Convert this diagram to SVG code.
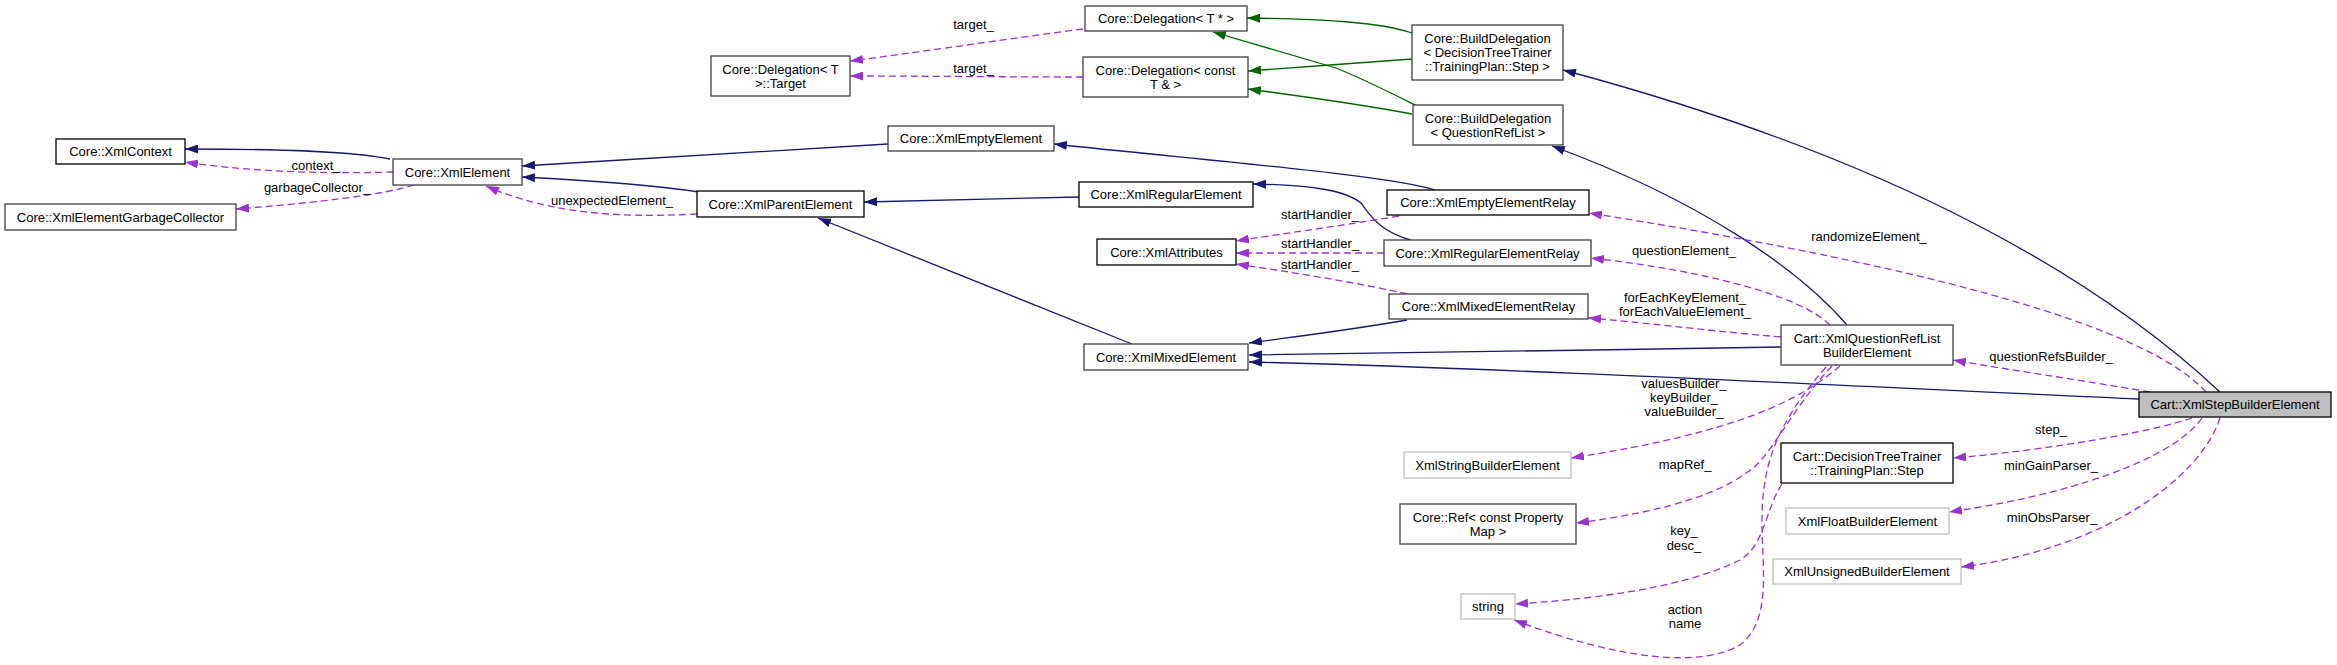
<svg xmlns="http://www.w3.org/2000/svg" width="2337" height="665" viewBox="0 0 2337 665">
<style>
text{font-family:"Liberation Sans",Arial,Helvetica,sans-serif;font-size:13px;fill:#000;text-anchor:middle}
.box{fill:#fff;stroke:#000;stroke-width:1.3}
.dk{stroke:#404040}
.lt{stroke:#bfbfbf}
.root{fill:#bfbfbf;stroke:#000}
.e{fill:none;stroke-width:1.3}
.inh{stroke:#191970;marker-end:url(#ab)}
.tpl{stroke:#006400;marker-end:url(#ag)}
.use{stroke:#9a32cd;stroke-dasharray:7,4;marker-end:url(#ap)}
</style>
<defs>
<marker id="ab" markerWidth="13" markerHeight="9" refX="13" refY="4.5" orient="auto" markerUnits="userSpaceOnUse"><path d="M0,0 L13,4.5 L0,9 z" fill="#191970"/></marker>
<marker id="ag" markerWidth="13" markerHeight="9" refX="13" refY="4.5" orient="auto" markerUnits="userSpaceOnUse"><path d="M0,0 L13,4.5 L0,9 z" fill="#006400"/></marker>
<marker id="ap" markerWidth="13" markerHeight="9" refX="13" refY="4.5" orient="auto" markerUnits="userSpaceOnUse"><path d="M0,0 L13,4.5 L0,9 z" fill="#9a32cd"/></marker>
</defs>
<rect width="2337" height="665" fill="#fff"/>
<g id="connectors">
<path class="e inh" d="M390,159 C350,151 280,149 185,149"/>
<path class="e use" d="M393,172 C330,174 250,172 185,162"/>
<text x="316" y="169.5">context_</text>
<path class="e use" d="M414,185 C380,196 300,204 236,209"/>
<text x="317" y="191.5">garbageCollector_</text>
<path class="e inh" d="M888,144 C800,150 650,158 522,166"/>
<path class="e inh" d="M699,192 C660,186 600,181 522,177"/>
<path class="e use" d="M697,214 C620,218 550,214 486,186"/>
<text x="612" y="204.5">unexpectedElement_</text>
<path class="e use" d="M1083,29 C1000,40 920,52 850,61"/>
<text x="973.5" y="28.5">target_</text>
<path class="e use" d="M1083,77 C1000,77 920,76 850,76"/>
<text x="973.5" y="72.5">target_</text>
<path class="e tpl" d="M1412,33 C1380,22 1320,19 1247,18"/>
<path class="e tpl" d="M1412,59 C1360,63 1300,67 1248,71"/>
<path class="e tpl" d="M1417,106 C1395,95 1370,82 1336,68 L1213,32"/>
<path class="e tpl" d="M1412,114 C1360,104 1300,96 1248,89"/>
<path class="e inh" d="M1435,190 C1390,175 1200,160 1054,144"/>
<path class="e inh" d="M1079,197 L864,202"/>
<path class="e inh" d="M1411,240 C1380,232 1370,215 1361,203 C1345,190 1310,185 1253,184"/>
<path class="e inh" d="M1132,344 L818,218"/>
<path class="e use" d="M1399,216 C1340,226 1280,234 1236,241"/>
<text x="1320" y="218.5">startHandler_</text>
<path class="e use" d="M1384,253 L1236,253"/>
<text x="1320" y="247.5">startHandler_</text>
<path class="e use" d="M1407,294 C1360,283 1290,272 1236,264"/>
<text x="1320" y="268.5">startHandler_</text>
<path class="e inh" d="M1407,320 C1350,330 1300,336 1249,343"/>
<path class="e inh" d="M1781,347 C1600,350 1400,353 1249,355"/>
<path class="e inh" d="M2139,399 C1850,386 1500,368 1249,362"/>
<path class="e inh" d="M1847,325 C1800,270 1700,200 1552,146"/>
<path class="e inh" d="M2220,392 C2100,280 1900,160 1563,70"/>
<path class="e use" d="M2206,392 C2150,330 1950,270 1589,213"/>
<text x="1869" y="240.5">randomizeElement_</text>
<path class="e use" d="M1830,325 C1800,295 1700,270 1591,258"/>
<text x="1684" y="255">questionElement_</text>
<path class="e use" d="M1781,337 C1700,330 1640,322 1588,318"/>
<text x="1685" y="301.5">forEachKeyElement_</text>
<text x="1685" y="316">forEachValueElement_</text>
<path class="e use" d="M2150,392 C2080,380 2010,370 1953,360"/>
<text x="2051" y="360.5">questionRefsBuilder_</text>
<path class="e use" d="M1840,366 C1800,400 1740,432 1571,458"/>
<text x="1684" y="387.5">valuesBuilder_</text>
<text x="1684" y="401.5">keyBuilder_</text>
<text x="1684" y="416">valueBuilder_</text>
<path class="e use" d="M1832,366 C1790,410 1770,460 1746,473 C1710,500 1640,515 1576,523"/>
<text x="1685" y="468.5">mapRef_</text>
<path class="e use" d="M1782,484 C1765,510 1765,545 1740,560 C1680,590 1580,600 1515,604"/>
<text x="1684" y="534.5">key_</text>
<text x="1684" y="549.5">desc_</text>
<path class="e use" d="M1826,367 C1780,420 1762,460 1762,520 C1762,570 1772,620 1740,645 C1700,668 1620,660 1514,620"/>
<text x="1685" y="613.5">action</text>
<text x="1685" y="627.5">name</text>
<path class="e use" d="M2192,418 C2150,432 2050,450 1953,458"/>
<text x="2051" y="433.5">step_</text>
<path class="e use" d="M2202,418 C2180,450 2100,490 1949,512"/>
<text x="2051" y="469.5">minGainParser_</text>
<path class="e use" d="M2220,418 C2200,480 2100,550 1961,567"/>
<text x="2052" y="521.5">minObsParser_</text>
</g>
<g id="n_XmlContext"><rect class="box" x="56" y="139" width="129" height="25"/><text x="120.5" y="156">Core::XmlContext</text></g>
<g id="n_XmlElement"><rect class="box dk" x="393" y="159" width="129" height="26"/><text x="457.5" y="176.5">Core::XmlElement</text></g>
<g id="n_GarbageCollector"><rect class="box dk" x="5" y="204" width="231" height="26"/><text x="120.5" y="221.5">Core::XmlElementGarbageCollector</text></g>
<g id="n_Target"><rect class="box dk" x="711" y="56" width="139" height="40"/><text x="780.5" y="73.5">Core::Delegation&lt; T</text><text x="780.5" y="87.5">&gt;::Target</text></g>
<g id="n_DelegationPtr"><rect class="box dk" x="1085" y="6" width="162" height="25"/><text x="1166" y="23">Core::Delegation&lt; T * &gt;</text></g>
<g id="n_DelegationRef"><rect class="box dk" x="1083" y="57" width="165" height="40"/><text x="1165.5" y="74.5">Core::Delegation&lt; const</text><text x="1165.5" y="88.5">T &amp; &gt;</text></g>
<g id="n_XmlEmptyElement"><rect class="box dk" x="888" y="126" width="166" height="25"/><text x="971" y="143">Core::XmlEmptyElement</text></g>
<g id="n_BuildDelegationStep"><rect class="box dk" x="1412" y="25" width="151" height="55"/><text x="1487.5" y="43">Core::BuildDelegation</text><text x="1487.5" y="57">&lt; DecisionTreeTrainer</text><text x="1487.5" y="71">::TrainingPlan::Step &gt;</text></g>
<g id="n_BuildDelegationQRL"><rect class="box dk" x="1413" y="105" width="150" height="40"/><text x="1488" y="122.5">Core::BuildDelegation</text><text x="1488" y="136.5">&lt; QuestionRefList &gt;</text></g>
<g id="n_XmlParentElement"><rect class="box" x="697" y="191" width="167" height="26"/><text x="780.5" y="208.5">Core::XmlParentElement</text></g>
<g id="n_XmlRegularElement"><rect class="box" x="1079" y="182" width="174" height="25"/><text x="1166" y="199">Core::XmlRegularElement</text></g>
<g id="n_XmlEmptyElementRelay"><rect class="box" x="1387" y="190" width="202" height="25"/><text x="1488" y="207">Core::XmlEmptyElementRelay</text></g>
<g id="n_XmlAttributes"><rect class="box" x="1097" y="239" width="139" height="26"/><text x="1166.5" y="256.5">Core::XmlAttributes</text></g>
<g id="n_XmlRegularElementRelay"><rect class="box dk" x="1384" y="240" width="207" height="26"/><text x="1487.5" y="257.5">Core::XmlRegularElementRelay</text></g>
<g id="n_XmlMixedElementRelay"><rect class="box dk" x="1389" y="294" width="199" height="25"/><text x="1488.5" y="311">Core::XmlMixedElementRelay</text></g>
<g id="n_XmlMixedElement"><rect class="box dk" x="1084" y="344" width="164" height="26"/><text x="1166" y="361.5">Core::XmlMixedElement</text></g>
<g id="n_QRLBuilder"><rect class="box dk" x="1781" y="325" width="172" height="40"/><text x="1867" y="342.5">Cart::XmlQuestionRefList</text><text x="1867" y="356.5">BuilderElement</text></g>
<g id="n_StepBuilder"><rect class="box root" x="2139" y="392" width="192" height="25"/><text x="2235" y="409">Cart::XmlStepBuilderElement</text></g>
<g id="n_XmlStringBuilder"><rect class="box lt" x="1404" y="452" width="167" height="26"/><text x="1487.5" y="469.5">XmlStringBuilderElement</text></g>
<g id="n_Step"><rect class="box" x="1781" y="443" width="172" height="40"/><text x="1867" y="460.5">Cart::DecisionTreeTrainer</text><text x="1867" y="474.5">::TrainingPlan::Step</text></g>
<g id="n_Ref"><rect class="box dk" x="1400" y="504" width="176" height="40"/><text x="1488" y="521.5">Core::Ref&lt; const Property</text><text x="1488" y="535.5">Map &gt;</text></g>
<g id="n_XmlFloatBuilder"><rect class="box lt" x="1786" y="508" width="163" height="26"/><text x="1867.5" y="525.5">XmlFloatBuilderElement</text></g>
<g id="n_XmlUnsignedBuilder"><rect class="box lt" x="1773" y="559" width="188" height="25"/><text x="1867" y="576">XmlUnsignedBuilderElement</text></g>
<g id="n_string"><rect class="box lt" x="1461" y="594" width="54" height="25"/><text x="1488" y="611">string</text></g>
</svg>
